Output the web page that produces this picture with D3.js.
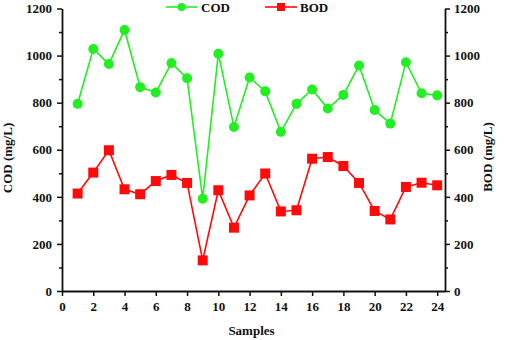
<!DOCTYPE html>
<html>
<head>
<meta charset="utf-8">
<script src="https://cdn.jsdelivr.net/npm/d3@7"></script>
<style>
  body { margin: 0; background: #fff; }
</style>
</head>
<body>
<div id="chart-container"></div>
<script>
// Samples 1..24
const samples = d3.range(1, 25);
const codValues = [795, 1028, 964, 1109, 866, 843, 968, 904, 392, 1008, 697, 907,
                   848, 676, 795, 856, 775, 833, 958, 769, 711, 972, 840, 831];
const bodValues = [414, 503, 598, 432, 411, 467, 493, 459, 130, 428, 269, 406,
                   499, 338, 343, 562, 569, 531, 459, 340, 304, 442, 460, 449];
const xTicks = [0, 2, 4, 6, 8, 10, 12, 14, 16, 18, 20, 22, 24];
const yTicks = [0, 200, 400, 600, 800, 1000, 1200];
const yMinorTicks = d3.range(100, 1200, 200);

const W = 505, H = 340;
const plotLeft = 62, plotRight = 445, plotTop = 8.5, plotBottom = 291;
const serif = "'Liberation Serif', 'Times New Roman', Times, serif";

const svg = d3.select("#chart-container")
  .append("svg")
  .attr("width", W)
  .attr("height", H)
  .attr("font-family", serif)
  .attr("font-weight", "bold");

const x = d3.scaleLinear().domain([0, 24.5]).range([plotLeft, plotRight]);
const yL = d3.scaleLinear().domain([0, 1200]).range([plotBottom, plotTop]);
const yR = d3.scaleLinear().domain([0, 1200]).range([plotBottom, plotTop]);

// axes
function styleAxis(g) {
  g.attr("font-family", serif).attr("font-weight", "bold").attr("font-size", 13);
  g.select(".domain").attr("stroke", "#111").attr("stroke-width", 1.8);
  g.selectAll(".tick line").attr("stroke", "#111").attr("stroke-width", 1.5);
  g.selectAll(".tick text").attr("fill", "#111");
}

svg.append("g")
  .attr("transform", `translate(0,${plotBottom})`)
  .call(d3.axisBottom(x).tickValues(xTicks).tickFormat(d3.format("d"))
    .tickSize(5).tickSizeOuter(0).tickPadding(6))
  .call(styleAxis);

svg.append("g")
  .attr("transform", `translate(${plotLeft},0)`)
  .call(d3.axisLeft(yL).tickValues(yTicks).tickFormat(d3.format("d"))
    .tickSize(5).tickSizeOuter(0).tickPadding(5))
  .call(styleAxis);
svg.append("g")
  .attr("transform", `translate(${plotLeft},0)`)
  .call(d3.axisLeft(yL).tickValues(yMinorTicks).tickSize(3).tickFormat(""))
  .call(g => g.select(".domain").remove())
  .call(styleAxis);

svg.append("g")
  .attr("transform", `translate(${plotRight},0)`)
  .call(d3.axisRight(yR).tickValues(yTicks).tickFormat(d3.format("d"))
    .tickSize(5).tickSizeOuter(0).tickPadding(4))
  .call(styleAxis);
svg.append("g")
  .attr("transform", `translate(${plotRight},0)`)
  .call(d3.axisRight(yR).tickValues(yMinorTicks).tickSize(3).tickFormat(""))
  .call(g => g.select(".domain").remove())
  .call(styleAxis);

// axis titles
svg.append("text")
  .attr("x", (plotLeft + plotRight) / 2 - 2)
  .attr("y", 335)
  .attr("text-anchor", "middle")
  .attr("font-size", 13)
  .attr("fill", "#111")
  .text("Samples");

svg.append("text")
  .attr("transform", "translate(12,158) rotate(-90)")
  .attr("text-anchor", "middle")
  .attr("font-size", 13)
  .attr("fill", "#111")
  .text("COD (mg/L)");

svg.append("text")
  .attr("transform", "translate(492,157) rotate(-90)")
  .attr("text-anchor", "middle")
  .attr("font-size", 13)
  .attr("fill", "#111")
  .text("BOD (mg/L)");

// series
const green = "#22ee22", red = "#ff0a0a";
const codData = samples.map((s, i) => ({ s, v: codValues[i] }));
const bodData = samples.map((s, i) => ({ s, v: bodValues[i] }));

svg.append("path")
  .datum(bodData)
  .attr("fill", "none")
  .attr("stroke", red)
  .attr("stroke-width", 1.6)
  .attr("d", d3.line().x(d => x(d.s)).y(d => yR(d.v)));

svg.selectAll(".bod")
  .data(bodData)
  .enter()
  .append("rect")
  .attr("x", d => x(d.s) - 5)
  .attr("y", d => yR(d.v) - 5)
  .attr("width", 10)
  .attr("height", 10)
  .attr("fill", red);

svg.append("path")
  .datum(codData)
  .attr("fill", "none")
  .attr("stroke", green)
  .attr("stroke-width", 1.6)
  .attr("d", d3.line().x(d => x(d.s)).y(d => yL(d.v)));

svg.selectAll(".cod")
  .data(codData)
  .enter()
  .append("circle")
  .attr("cx", d => x(d.s))
  .attr("cy", d => yL(d.v))
  .attr("r", 5)
  .attr("fill", green);

// legend
const legend = svg.append("g");
legend.append("line").attr("x1", 166).attr("x2", 197).attr("y1", 7).attr("y2", 7)
  .attr("stroke", green).attr("stroke-width", 1.6);
legend.append("circle").attr("cx", 181.5).attr("cy", 7).attr("r", 4).attr("fill", green);
legend.append("text").attr("x", 201).attr("y", 11.5).attr("font-size", 13).attr("fill", "#111").text("COD");

legend.append("line").attr("x1", 265).attr("x2", 297).attr("y1", 7).attr("y2", 7)
  .attr("stroke", red).attr("stroke-width", 1.6);
legend.append("rect").attr("x", 277).attr("y", 3).attr("width", 8).attr("height", 8).attr("fill", red);
legend.append("text").attr("x", 300).attr("y", 11.5).attr("font-size", 13).attr("fill", "#111").text("BOD");
</script>
</body>
</html>
